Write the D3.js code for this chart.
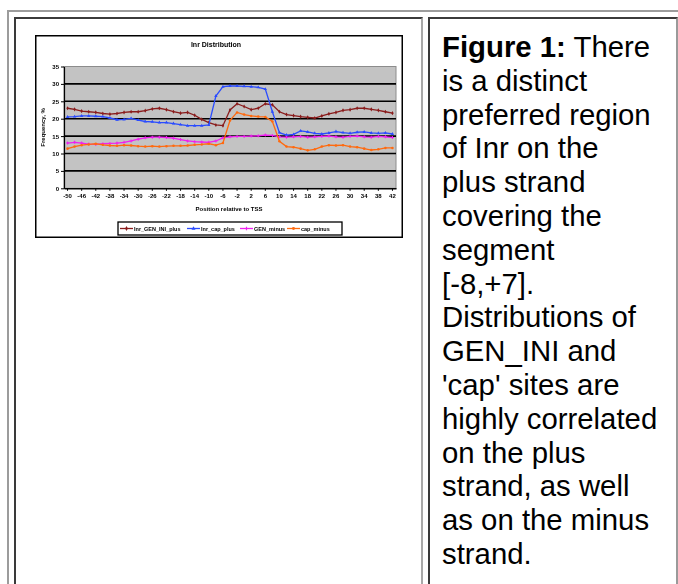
<!DOCTYPE html>
<html>
<head>
<meta charset="utf-8">
<script src="https://cdn.jsdelivr.net/npm/d3@7"></script>
<style>
  html, body { margin: 0; padding: 0; background: #fff; }
  body { width: 678px; height: 584px; overflow: hidden; position: relative; }
  .box { position: absolute; box-sizing: border-box; }
  #outer { left: 7px; top: 10px; width: 690px; height: 600px;
           border-top: 2px solid #9c9c9c; border-left: 2px solid #9c9c9c; }
  #cellL { left: 14px; top: 17px; width: 409px; height: 590px;
           border-top: 2px solid #3a3a3a; border-left: 2px solid #3a3a3a;
           border-right: 2px solid #a8a8a8; }
  #cellR { left: 428px; top: 17px; width: 250px; height: 590px;
           border-top: 2px solid #3a3a3a; border-left: 2px solid #3a3a3a;
           border-right: 2px solid #9a9a9a; }
  #chart { position: absolute; left: 35px; top: 35px; }
  #caption { position: absolute; left: 442px; top: 30px; white-space: nowrap;
             font-family: "Liberation Sans", Arial, sans-serif; font-size: 29.33px;
             line-height: 33.8px; color: #000; }
</style>
</head>
<body>
<div class="box" id="outer"></div>
<div class="box" id="cellL"></div>
<div class="box" id="cellR"></div>
<svg id="chart" width="368" height="203"></svg>
<div id="caption"></div>
<script>
// Position of each sampled site relative to the start (bp)
const positions = [-50,-48,-46,-44,-42,-40,-38,-36,-34,-32,-30,-28,-26,-24,-22,-20,-18,-16,-14,-12,
  -10,-8,-6,-4,-2,0,2,4,6,8,10,12,14,16,18,20,22,24,26,28,30,32,34,36,38,40,42];

// Frequency (%) per position for each site set
const genPlus  = [23.0,22.7,22.2,22.0,21.8,21.5,21.3,21.5,21.8,22.0,22.0,22.3,22.8,23.0,22.6,22.0,21.6,21.8,21.0,19.8,
  18.9,18.2,18.0,22.5,24.3,23.5,22.6,23.0,24.3,24.0,22.0,21.2,20.9,20.6,20.4,20.2,20.8,21.4,21.8,22.4,
  22.6,23.0,23.0,22.7,22.4,22.0,21.6];
const capPlus  = [20.5,20.6,20.8,20.8,20.7,20.6,20.2,19.7,19.8,20.1,19.6,19.2,19.1,18.9,18.9,18.6,18.3,18.0,18.0,18.0,
  18.2,26.5,29.2,29.4,29.4,29.3,29.2,29.0,28.5,22.0,16.0,15.3,15.5,16.5,16.2,15.8,15.6,15.9,16.3,16.0,
  15.8,16.1,16.2,15.9,15.8,15.9,15.6];
const genMinus = [13.0,13.2,13.0,12.7,12.6,12.8,12.9,13.0,13.2,13.6,14.1,14.5,14.7,14.7,14.6,14.4,14.0,13.6,13.4,13.3,
  13.2,13.6,14.5,14.8,14.9,14.9,15.0,15.1,15.3,15.2,14.8,14.7,14.8,14.9,14.7,14.8,14.9,15.0,14.8,14.7,
  14.9,15.0,14.8,14.7,14.9,14.8,14.6];
const capMinus = [11.4,12.0,12.4,12.6,12.8,12.5,12.3,12.2,12.4,12.3,12.1,12.0,12.1,12.0,12.1,12.2,12.2,12.3,12.5,12.6,
  12.8,12.4,13.0,19.5,21.8,21.2,20.8,20.6,20.5,19.2,13.5,12.0,11.8,11.4,10.9,11.2,12.0,12.4,12.3,12.4,
  12.0,11.8,11.4,11.0,11.2,11.6,11.6];

const seriesNames = ["Inr_GEN_INI_plus", "Inr_cap_plus", "GEN_minus", "cap_minus"];
const seriesColors = ["#8a1c1c", "#2a4cff", "#f020f0", "#ff6a10"];
const seriesShapes = [d3.symbolDiamond, d3.symbolTriangle, d3.symbolCross, d3.symbolCircle];

const yTicks = [0, 5, 10, 15, 20, 25, 30, 35];
const xTickLabels = [-50,-46,-42,-38,-34,-30,-26,-22,-18,-14,-10,-6,-2,2,6,10,14,18,22,26,30,34,38,42];

const chartTitle = "Inr Distribution";
const xTitle = "Position relative to TSS";
const yTitle = "Frequency, %";

const captionLines = [
  "<b>Figure 1:</b> There", "is a distinct", "preferred region", "of Inr on the", "plus strand",
  "covering the", "segment", "[-8,+7].", "Distributions of", "GEN_INI and", "'cap' sites are",
  "highly correlated", "on the plus", "strand, as well", "as on the minus", "strand."
];
document.getElementById("caption").innerHTML = captionLines.join("<br>");

// ---- chart ----
const svg = d3.select("#chart");
const W = 368, H = 203;
const m = { left: 29, right: 7, top: 31.5, bottom: 49.7 };
const FONT = "'Liberation Sans', Arial, sans-serif";

const defs = svg.append("defs");
defs.append("filter").attr("id", "soft").attr("x", "-5%").attr("y", "-5%")
  .attr("width", "110%").attr("height", "110%")
  .append("feGaussianBlur").attr("stdDeviation", 0.45);

const g = svg.append("g").attr("filter", "url(#soft)");

g.append("rect").attr("x", 0).attr("y", 0).attr("width", W).attr("height", H).attr("fill", "#fff");
g.append("rect").attr("x", 0.75).attr("y", 0.75).attr("width", W - 1.5).attr("height", H - 1.5)
  .attr("fill", "none").attr("stroke", "#000").attr("stroke-width", 1.5);

const x = d3.scaleBand().domain(positions).range([m.left, W - m.right]);
const y = d3.scaleLinear().domain([0, 35]).range([H - m.bottom, m.top]);
const cx = d => x(d) + x.bandwidth() / 2;

// plot area
g.append("rect").attr("x", m.left).attr("y", m.top)
  .attr("width", W - m.right - m.left).attr("height", y(0) - m.top)
  .attr("fill", "#c3c3c3").attr("stroke", "#8c8c8c").attr("stroke-width", 1);

// horizontal gridlines
g.append("g").selectAll("line").data(yTicks.filter(v => v > 0 && v < 35)).join("line")
  .attr("x1", m.left).attr("x2", W - m.right)
  .attr("y1", d => y(d)).attr("y2", d => y(d))
  .attr("stroke", "#000").attr("stroke-width", 1.6);

// y axis
const yAxis = g.append("g").attr("transform", `translate(${m.left},0)`)
  .call(d3.axisLeft(y).tickValues(yTicks).tickSize(3).tickPadding(2).tickSizeOuter(0));
yAxis.select(".domain").attr("stroke", "#000").attr("stroke-width", 1.2);
yAxis.selectAll(".tick line").attr("stroke", "#000");
yAxis.selectAll("text").attr("font-family", FONT).attr("font-size", 6).attr("font-weight", "bold").attr("fill", "#000");

// x axis
const xAxis = g.append("g").attr("transform", `translate(0,${y(0)})`)
  .call(d3.axisBottom(x).tickValues(xTickLabels.filter(v => positions.includes(v)))
    .tickSize(2.5).tickPadding(3).tickSizeOuter(0));
xAxis.select(".domain").attr("stroke", "#000").attr("stroke-width", 1.4);
xAxis.selectAll(".tick line").attr("stroke", "#000");
xAxis.selectAll("text").attr("font-family", FONT).attr("font-size", 6).attr("font-weight", "bold").attr("fill", "#000");

// titles
g.append("text").attr("x", 181).attr("y", 12).attr("text-anchor", "middle")
  .attr("font-family", FONT).attr("font-size", 7).attr("font-weight", "bold").text(chartTitle);
g.append("text").attr("x", 194).attr("y", 176).attr("text-anchor", "middle")
  .attr("font-family", FONT).attr("font-size", 6).attr("font-weight", "bold").text(xTitle);
g.append("text").attr("transform", `translate(10,${(m.top + y(0)) / 2}) rotate(-90)`)
  .attr("text-anchor", "middle").attr("font-family", FONT).attr("font-size", 6)
  .attr("font-weight", "bold").text(yTitle);

// series lines and markers
const allSeries = [genPlus, capPlus, genMinus, capMinus];
const line = d3.line().x((d, i) => cx(positions[i])).y(d => y(d));
allSeries.forEach((vals, k) => {
  const sg = g.append("g");
  sg.append("path").datum(vals).attr("d", line).attr("fill", "none")
    .attr("stroke", seriesColors[k]).attr("stroke-width", 1.3);
  sg.selectAll("path.mk").data(vals).join("path").attr("class", "mk")
    .attr("transform", (d, i) => `translate(${cx(positions[i])},${y(d)})`)
    .attr("d", d3.symbol().type(seriesShapes[k]).size(5))
    .attr("fill", seriesColors[k]);
});

// legend
const lg = g.append("g");
lg.append("rect").attr("x", 83).attr("y", 187).attr("width", 224).attr("height", 13)
  .attr("fill", "#fff").attr("stroke", "#000").attr("stroke-width", 1.3);
const legendX = [85, 152, 205, 252];
seriesNames.forEach((name, k) => {
  const lx = legendX[k];
  lg.append("line").attr("x1", lx).attr("x2", lx + 13).attr("y1", 193.5).attr("y2", 193.5)
    .attr("stroke", seriesColors[k]).attr("stroke-width", 1.3);
  lg.append("path").attr("transform", `translate(${lx + 6.5},193.5)`)
    .attr("d", d3.symbol().type(seriesShapes[k]).size(7)).attr("fill", seriesColors[k]);
  lg.append("text").attr("x", lx + 14).attr("y", 195.6)
    .attr("font-family", FONT).attr("font-size", 5.5).attr("font-weight", "bold").text(name);
});
</script>
</body>
</html>
